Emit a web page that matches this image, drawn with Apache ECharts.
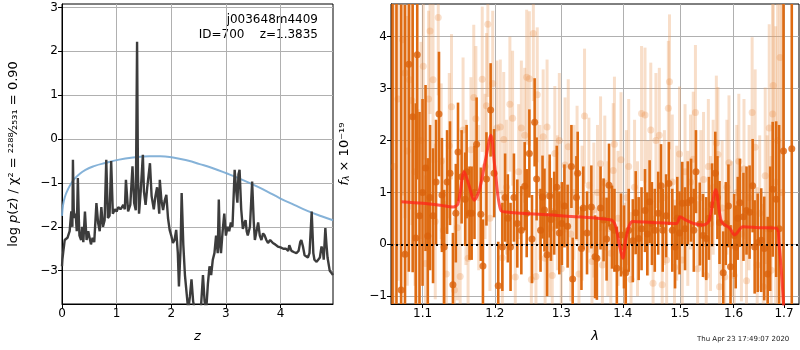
<!DOCTYPE html>
<html><head><meta charset="utf-8">
<script src="https://cdn.jsdelivr.net/npm/echarts@6/dist/echarts.min.js"></script>
<style>html,body{margin:0;padding:0;background:#fff}#c{width:800px;height:350px}</style>
</head><body><div id="c"></div>
<script>
// ---------- Left panel: p(z) ----------
const zTicks = [0, 1, 2, 3, 4];
const pzTicks = [-3, -2, -1, 0, 1, 2, 3];
const pzLine = [[0.0,-2.9],[0.007,-2.75],[0.03,-2.5],[0.05,-2.3],[0.1,-2.25],[0.14,-2.1],[0.17,-1.65],[0.19,-2.0],[0.2,-0.47],[0.215,-1.6],[0.23,-1.8],[0.25,-1.7],[0.27,-2.1],[0.29,-0.89],[0.31,-1.9],[0.32,-2.2],[0.35,-2.3],[0.37,-2.0],[0.39,-2.35],[0.42,-1.65],[0.45,-2.3],[0.48,-2.1],[0.5,-2.1],[0.53,-2.4],[0.56,-2.25],[0.59,-2.35],[0.63,-1.46],[0.66,-1.9],[0.69,-2.1],[0.72,-1.55],[0.75,-2.0],[0.78,-1.85],[0.81,-0.47],[0.84,-1.8],[0.87,-1.75],[0.9,-0.5],[0.93,-1.7],[0.97,-1.6],[1.0,-1.65],[1.03,-1.55],[1.07,-1.6],[1.1,-1.55],[1.12,-1.5],[1.15,-1.6],[1.17,-0.93],[1.21,-1.65],[1.25,-1.5],[1.29,-0.62],[1.32,-1.45],[1.35,-1.62],[1.374,2.22],[1.39,-0.8],[1.41,-1.7],[1.44,-1.2],[1.48,-0.36],[1.5,-1.2],[1.53,-1.5],[1.56,-1.1],[1.61,-0.55],[1.64,-1.3],[1.68,-1.6],[1.71,-1.3],[1.74,-1.1],[1.78,-1.7],[1.79,-0.93],[1.82,-1.4],[1.85,-1.62],[1.88,-1.4],[1.91,-1.27],[1.94,-1.8],[1.97,-2.07],[2.0,-2.2],[2.03,-2.37],[2.06,-2.3],[2.09,-2.07],[2.12,-2.6],[2.14,-3.36],[2.17,-2.5],[2.19,-1.23],[2.22,-2.4],[2.25,-3.1],[2.28,-3.5],[2.31,-3.9],[2.34,-3.6],[2.37,-3.2],[2.4,-3.7],[2.43,-3.9],[2.46,-4.0],[2.5,-4.0],[2.54,-3.9],[2.58,-3.1],[2.61,-3.7],[2.64,-3.9],[2.67,-3.3],[2.7,-2.9],[2.73,-3.1],[2.76,-2.75],[2.79,-2.6],[2.82,-2.2],[2.85,-2.6],[2.87,-1.38],[2.89,-2.4],[2.91,-2.6],[2.94,-2.1],[2.97,-1.7],[3.0,-2.2],[3.03,-2.0],[3.06,-2.1],[3.09,-1.9],[3.12,-2.0],[3.16,-0.7],[3.19,-1.2],[3.21,-1.45],[3.23,-0.8],[3.25,-0.7],[3.28,-1.6],[3.31,-2.05],[3.34,-1.9],[3.36,-1.85],[3.38,-2.1],[3.4,-2.2],[3.44,-2.0],[3.48,-0.97],[3.51,-1.9],[3.53,-2.3],[3.56,-2.1],[3.59,-1.9],[3.62,-2.2],[3.65,-2.3],[3.68,-2.15],[3.71,-2.2],[3.74,-2.3],[3.77,-2.37],[3.81,-2.3],[3.86,-2.37],[3.9,-2.4],[3.95,-2.45],[4.0,-2.47],[4.05,-2.5],[4.1,-2.5],[4.14,-2.55],[4.16,-2.42],[4.2,-2.55],[4.25,-2.58],[4.29,-2.6],[4.33,-2.55],[4.36,-2.35],[4.38,-2.3],[4.41,-2.45],[4.44,-2.65],[4.47,-2.65],[4.5,-2.7],[4.53,-2.6],[4.57,-1.65],[4.6,-2.6],[4.62,-2.75],[4.66,-2.8],[4.69,-2.8],[4.72,-2.7],[4.75,-2.45],[4.78,-2.6],[4.79,-2.75],[4.82,-2.03],[4.84,-2.4],[4.86,-2.7],[4.9,-3.0],[4.93,-3.05],[4.96,-3.1]];
const priorLine = [[0,-1.75],[0.02,-1.5],[0.05,-1.33],[0.1,-1.17],[0.2,-0.95],[0.3,-0.82],[0.43,-0.7],[0.6,-0.61],[0.81,-0.54],[1.0,-0.48],[1.3,-0.42],[1.6,-0.39],[1.8,-0.39],[2.03,-0.42],[2.3,-0.49],[2.52,-0.57],[2.75,-0.66],[3.01,-0.78],[3.25,-0.9],[3.5,-1.04],[3.75,-1.19],[3.99,-1.35],[4.25,-1.5],[4.48,-1.63],[4.75,-1.76],[4.96,-1.85]];

// ---------- Right panel: spectrum ----------
const lamTicks = [1.1, 1.2, 1.3, 1.4, 1.5, 1.6, 1.7];
const fluxTicks = [-1, 0, 1, 2, 3, 4];
// [lambda, flux, error]
const darkSpec = [[1.061,-1.4,6.5],[1.066,5.2,6.5],[1.072,-0.88,5.5],[1.077,-0.19,4.8],[1.082,3.47,4.0],[1.087,2.46,3.0],[1.091,0.12,2.6],[1.093,3.65,2.4],[1.096,0.55,2.0],[1.100,1.0,1.8],[1.104,1.47,1.6],[1.107,0.16,1.5],[1.110,0.9,1.4],[1.114,0.55,1.3],[1.118,1.2,1.2],[1.122,2.51,1.2],[1.126,0.95,1.1],[1.129,-0.05,1.1],[1.133,1.2,1.0],[1.137,1.37,1.0],[1.141,-0.78,1.0],[1.145,0.6,0.95],[1.148,1.78,0.95],[1.153,1.30,0.9],[1.158,0.87,0.9],[1.160,1.40,0.9],[1.164,0.60,0.9],[1.167,0.60,0.9],[1.171,1.0,0.9],[1.174,1.93,0.9],[1.180,0.58,0.9],[1.183,-0.42,0.9],[1.188,1.26,0.9],[1.194,2.59,0.9],[1.199,1.37,0.85],[1.205,-0.80,0.85],[1.211,-0.05,0.85],[1.215,0.9,0.85],[1.219,0.50,0.85],[1.223,-0.05,0.85],[1.228,0.90,0.85],[1.233,0.4,0.85],[1.239,0.27,0.85],[1.244,1.12,0.85],[1.247,0.6,0.85],[1.251,1.75,0.85],[1.255,0.1,0.85],[1.259,2.35,0.85],[1.262,1.26,0.8],[1.268,0.27,0.8],[1.271,0.91,0.8],[1.274,0.66,0.8],[1.278,-0.2,0.8],[1.282,0.93,0.8],[1.284,0.48,0.8],[1.289,0.60,0.8],[1.293,1.1,0.8],[1.297,0.22,0.8],[1.301,0.4,0.8],[1.305,0.74,0.8],[1.310,0.35,0.8],[1.316,1.50,0.8],[1.318,-0.67,0.8],[1.324,0.90,0.8],[1.326,1.37,0.8],[1.332,-0.08,0.8],[1.335,0.70,0.8],[1.341,0.22,0.8],[1.348,0.72,0.8],[1.354,-0.24,0.8],[1.357,-0.27,0.8],[1.363,0.70,0.8],[1.368,0.47,0.8],[1.373,0.1,0.8],[1.377,1.14,0.8],[1.382,0.33,0.8],[1.386,0.27,0.8],[1.390,-0.46,0.8],[1.397,0.18,0.8],[1.402,-0.05,0.8],[1.405,-0.55,0.8],[1.410,0.27,0.8],[1.417,0.07,0.8],[1.422,0.61,0.8],[1.427,0.11,0.8],[1.432,0.3,0.8],[1.438,0.65,0.8],[1.442,0.2,0.8],[1.446,0.82,0.8],[1.450,0.4,0.8],[1.455,0.27,0.8],[1.461,0.60,0.8],[1.466,1.13,0.8],[1.469,0.27,0.8],[1.475,0.55,0.8],[1.480,1.17,0.8],[1.486,0.27,0.8],[1.491,-0.05,0.8],[1.495,0.5,0.8],[1.499,0.22,0.8],[1.504,0.79,0.8],[1.509,0.3,0.8],[1.514,0.80,0.8],[1.520,0.85,0.8],[1.525,0.27,0.8],[1.529,1.40,0.8],[1.536,0.39,0.8],[1.542,0.17,0.8],[1.548,0.11,0.8],[1.553,0.5,0.8],[1.559,0.76,0.8],[1.565,1.37,0.8],[1.569,0.9,0.8],[1.573,0.42,0.8],[1.580,-0.55,0.8],[1.585,0.40,0.8],[1.590,0.74,0.8],[1.594,-0.43,0.8],[1.601,0.17,0.8],[1.604,-0.05,0.8],[1.608,0.5,0.8],[1.612,0.80,0.85],[1.619,0.53,0.85],[1.625,0.65,0.85],[1.631,0.62,0.9],[1.637,1.13,0.9],[1.641,-0.05,0.9],[1.647,0.03,0.95],[1.654,0.08,1.0],[1.660,-0.08,1.0],[1.667,-0.57,1.1],[1.672,0.3,1.2],[1.677,1.06,1.3],[1.684,0.87,1.5],[1.690,0.3,2.0],[1.699,1.80,6],[1.716,1.84,6]];
const lightSpec = [[1.063,1.5,4.0],[1.068,2.8,3.5],[1.074,3.94,3.0],[1.077,3.3,2.8],[1.080,1.8,2.6],[1.083,3.17,2.5],[1.086,2.77,2.4],[1.090,1.4,2.2],[1.094,0.6,2.0],[1.098,2.0,1.9],[1.101,3.43,1.8],[1.104,-0.37,1.7],[1.108,2.8,1.7],[1.110,4.11,1.6],[1.114,3.17,1.6],[1.117,0.44,1.5],[1.121,4.37,1.5],[1.125,1.6,1.5],[1.128,0.27,1.4],[1.132,-0.57,1.4],[1.136,1.9,1.4],[1.139,2.65,1.4],[1.143,-0.88,1.4],[1.147,0.32,1.4],[1.151,-0.62,1.4],[1.155,2.2,1.4],[1.159,1.0,1.4],[1.162,-0.27,1.4],[1.166,1.82,1.4],[1.170,2.83,1.4],[1.173,2.42,1.4],[1.177,0.9,1.4],[1.182,3.18,1.4],[1.186,1.5,1.4],[1.188,2.67,1.4],[1.190,4.24,1.4],[1.193,0.5,1.4],[1.197,3.1,1.4],[1.203,2.24,1.3],[1.208,2.26,1.3],[1.211,-0.26,1.3],[1.213,2.02,1.3],[1.217,1.1,1.3],[1.222,2.7,1.3],[1.226,2.43,1.3],[1.230,-0.63,1.3],[1.235,1.4,1.3],[1.239,2.24,1.3],[1.244,2.1,1.3],[1.247,3.22,1.3],[1.251,3.19,1.3],[1.254,-0.68,1.3],[1.257,4.06,1.3],[1.261,-0.62,1.3],[1.263,2.88,1.3],[1.267,1.0,1.3],[1.272,2.07,1.3],[1.275,-0.27,1.3],[1.278,2.26,1.3],[1.282,0.3,1.3],[1.286,-0.6,1.3],[1.290,1.75,1.3],[1.294,0.8,1.3],[1.297,2.0,1.3],[1.300,-0.47,1.3],[1.306,1.53,1.3],[1.311,1.88,1.3],[1.315,0.2,1.3],[1.320,1.0,1.3],[1.325,1.37,1.3],[1.328,-0.57,1.3],[1.333,0.6,1.3],[1.337,2.47,1.3],[1.344,1.14,1.3],[1.349,-0.33,1.3],[1.352,0.66,1.3],[1.358,1.0,1.3],[1.363,1.55,1.3],[1.366,-0.4,1.3],[1.370,1.18,1.3],[1.375,0.3,1.3],[1.380,-0.17,1.3],[1.384,1.42,1.3],[1.386,1.93,1.3],[1.392,0.5,1.3],[1.397,1.63,1.3],[1.403,-0.5,1.3],[1.406,0.9,1.3],[1.410,1.5,1.3],[1.414,-0.68,1.3],[1.420,1.1,1.3],[1.425,0.3,1.3],[1.432,2.52,1.3],[1.438,2.49,1.3],[1.443,0.7,1.3],[1.448,2.2,1.3],[1.452,-0.75,1.3],[1.457,2.0,1.3],[1.463,2.1,1.3],[1.468,-0.78,1.3],[1.472,0.9,1.3],[1.476,-0.3,1.3],[1.479,2.62,1.3],[1.481,3.13,1.3],[1.486,1.2,1.3],[1.490,-0.44,1.3],[1.494,0.6,1.3],[1.499,1.74,1.3],[1.504,-0.3,1.3],[1.509,1.4,1.3],[1.514,0.5,1.3],[1.519,1.2,1.3],[1.524,1.64,1.3],[1.528,2.54,1.3],[1.532,-0.47,1.3],[1.538,0.9,1.3],[1.543,1.25,1.3],[1.548,-0.6,1.3],[1.552,1.5,1.3],[1.556,0.4,1.3],[1.561,1.1,1.3],[1.567,1.95,1.3],[1.570,1.73,1.3],[1.573,-0.82,1.3],[1.578,0.7,1.3],[1.583,-0.63,1.3],[1.587,1.1,1.3],[1.591,1.57,1.3],[1.596,0.3,1.3],[1.601,-0.6,1.3],[1.606,1.0,1.3],[1.610,1.6,1.3],[1.615,0.2,1.3],[1.620,1.45,1.35],[1.625,-0.7,1.4],[1.630,0.9,1.4],[1.636,2.54,1.45],[1.642,1.87,1.5],[1.646,-0.4,1.5],[1.651,0.6,1.5],[1.658,-0.82,1.6],[1.662,1.32,1.7],[1.666,0.3,1.8],[1.670,2.24,2.0],[1.674,-0.5,2.2],[1.677,2.51,2.4],[1.678,3.06,2.6],[1.683,1.2,3.0],[1.687,2.0,3.5],[1.692,3.6,4.0],[1.696,1.0,5.0]];
const modelLine = [[1.0725,0.82],[1.10,0.79],[1.125,0.75],[1.1413,0.72],[1.148,0.78],[1.1566,1.40],[1.163,1.15],[1.1706,0.85],[1.178,1.05],[1.187,1.65],[1.1944,2.10],[1.200,1.50],[1.2089,0.65],[1.22,0.62],[1.30,0.55],[1.3806,0.47],[1.388,0.35],[1.394,0.0],[1.400,-0.27],[1.406,0.15],[1.4168,0.44],[1.45,0.42],[1.4934,0.40],[1.500,0.53],[1.51,0.47],[1.525,0.40],[1.5420,0.37],[1.553,0.45],[1.5658,1.05],[1.5766,0.44],[1.5925,0.31],[1.602,0.18],[1.6181,0.34],[1.65,0.32],[1.6842,0.31],[1.690,0.0],[1.696,-0.7],[1.702,-1.6]];

const FONT = 'DejaVu Sans';
const minusFmt = v => String(v).replace('-', '\u2212');
const gridLine = { show: true, lineStyle: { color: '#b0b0b0', width: 1 } };
const axLine = { show: true, onZero: false, lineStyle: { color: '#000', width: 1 } };
const axTick = (vals) => ({ show: true, length: 4, lineStyle: { color: '#000' }, customValues: vals });
const axLabel = (vals, fmt) => ({ color: '#000', fontFamily: FONT, fontSize: 12, margin: 4, customValues: vals, formatter: fmt });

function errSeries(data, color, width, z) {
  return {
    type: 'custom', xAxisIndex: 1, yAxisIndex: 1, clip: true, silent: true, z: z,
    data: data.map(d => [d[0], d[1] - d[2], d[1] + d[2]]),
    encode: { x: 0, y: [1, 2] },
    renderItem: (params, api) => {
      const a = api.coord([api.value(0), api.value(1)]);
      const b = api.coord([api.value(0), api.value(2)]);
      return { type: 'line', shape: { x1: a[0], y1: a[1], x2: b[0], y2: b[1] },
               style: { stroke: color, lineWidth: width } };
    }
  };
}

const chart = echarts.init(document.getElementById('c'), null, { renderer: 'canvas' });
chart.setOption({
  animation: false,
  backgroundColor: '#fff',
  textStyle: { fontFamily: FONT },
  grid: [
    { left: 62, top: 4, width: 271, height: 300, show: true, borderColor: '#000', borderWidth: 1 },
    { left: 391, top: 4, width: 408, height: 300, show: true, borderColor: '#000', borderWidth: 1 }
  ],
  xAxis: [
    { gridIndex: 0, type: 'value', min: 0, max: 4.96,
      axisLine: axLine, axisTick: axTick(zTicks), splitLine: gridLine,
      axisLabel: axLabel(zTicks, v => String(v)),
      name: 'z', nameLocation: 'middle', nameGap: 26,
      nameTextStyle: { fontFamily: FONT, fontSize: 13, fontStyle: 'italic', color: '#000' } },
    { gridIndex: 1, type: 'log', logBase: 10, min: 1.059, max: 1.731,
      axisLine: axLine, axisTick: axTick(lamTicks), splitLine: gridLine, minorTick: { show: false },
      axisLabel: axLabel(lamTicks, v => Number(v).toFixed(1)),
      name: 'λ', nameLocation: 'middle', nameGap: 26,
      nameTextStyle: { fontFamily: FONT, fontSize: 13, fontStyle: 'italic', color: '#000' } }
  ],
  yAxis: [
    { gridIndex: 0, type: 'value', min: -3.76, max: 3.08,
      axisLine: axLine, axisTick: axTick(pzTicks), splitLine: gridLine,
      axisLabel: axLabel(pzTicks, minusFmt),
      name: '{n|log }{i|p}{n|(}{i|z}{n|) / χ² = }{f|²²⁸⁸⁄₂₅₃₁}{n| = 0.90}',
      nameLocation: 'middle', nameGap: 42, nameRotate: 90,
      nameTextStyle: { color: '#000', rich: {
        n: { fontFamily: FONT, fontSize: 13, color: '#000' },
        i: { fontFamily: FONT, fontSize: 13, fontStyle: 'italic', color: '#000' },
        f: { fontFamily: FONT, fontSize: 13, color: '#000' } } } },
    { gridIndex: 1, type: 'value', min: -1.15, max: 4.63,
      axisLine: axLine, axisTick: axTick(fluxTicks), splitLine: gridLine,
      axisLabel: axLabel(fluxTicks, minusFmt),
      name: '{i|f}{s|λ}{n| × 10⁻¹⁹}',
      nameLocation: 'middle', nameGap: 40, nameRotate: 90,
      nameTextStyle: { color: '#000', rich: {
        n: { fontFamily: FONT, fontSize: 13, color: '#000' },
        i: { fontFamily: FONT, fontSize: 13, fontStyle: 'italic', color: '#000' },
        s: { fontFamily: FONT, fontSize: 9, fontStyle: 'italic', color: '#000', verticalAlign: 'bottom' } } } }
  ],
  series: [
    { type: 'line', xAxisIndex: 0, yAxisIndex: 0, data: priorLine, smooth: true, showSymbol: false,
      lineStyle: { color: 'rgba(120,170,212,0.9)', width: 2 }, z: 2 },
    { type: 'line', xAxisIndex: 0, yAxisIndex: 0, data: pzLine, showSymbol: false,
      lineStyle: { color: '#3c3c3c', width: 2.4 }, z: 3 },
    errSeries(lightSpec, 'rgba(236,160,100,0.35)', 3, 2),
    { type: 'scatter', xAxisIndex: 1, yAxisIndex: 1, data: lightSpec.map(d => [d[0], d[1]]),
      symbolSize: 7, itemStyle: { color: 'rgba(232,140,70,0.35)' }, z: 3, silent: true },
    errSeries(darkSpec, '#de6b12', 2.6, 4),
    { type: 'scatter', xAxisIndex: 1, yAxisIndex: 1, data: darkSpec.map(d => [d[0], d[1]]),
      symbolSize: 7, itemStyle: { color: '#d9620b' }, z: 5, silent: true },
    { type: 'line', xAxisIndex: 1, yAxisIndex: 1, data: modelLine, smooth: 0.3, showSymbol: false,
      lineStyle: { color: 'rgba(255,35,25,0.75)', width: 3 }, z: 7,
      markLine: { silent: true, symbol: 'none', label: { show: false },
        lineStyle: { color: '#000', type: [2, 3], width: 2 }, data: [{ yAxis: 0 }] } }
  ],
  graphic: [
    { type: 'text', right: 800 - 318, top: 14, style: { text: 'j003648m4409', fontFamily: FONT, fontSize: 12, fill: '#000', textAlign: 'right' } },
    { type: 'text', right: 800 - 318, top: 29, style: { text: 'ID=700    z=1.3835', fontFamily: FONT, fontSize: 12, fill: '#000', textAlign: 'right' } },
    { type: 'text', left: 697, top: 336, style: { text: 'Thu Apr 23 17:49:07 2020', fontFamily: FONT, fontSize: 7, fill: '#222' } }
  ]
});
</script></body></html>
